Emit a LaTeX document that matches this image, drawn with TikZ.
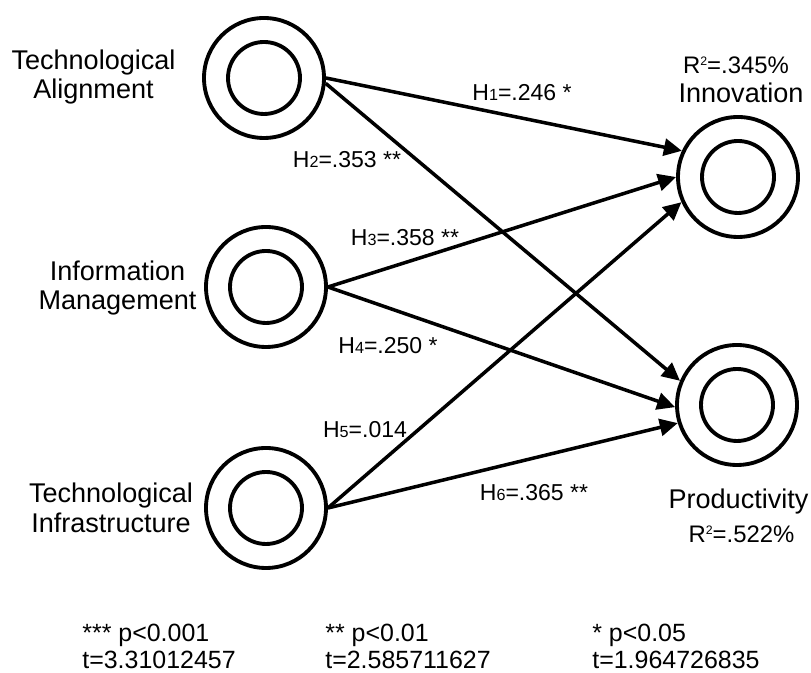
\documentclass[tikz,border=0pt]{standalone}
\usepackage{fontspec}
\setmainfont{Liberation Sans}
\usetikzlibrary{arrows.meta}
\newcommand{\Hyp}[1]{H{\fontsize{9.2}{9.2}\selectfont #1}}
\newcommand{\Rsq}{R\raisebox{4.6pt}{\fontsize{7}{7}\selectfont 2}}
\tikzset{
  construct/.style={circle,draw,line width=2.2pt,minimum size=2.4cm,inner sep=0pt,
    path picture={\draw[line width=2.2pt] (path picture bounding box.center) circle (0.72cm);}},
  cname/.style={align=center,inner sep=0pt,font=\fontsize{15.4}{17}\selectfont},
  rsq/.style={inner sep=0pt,font=\fontsize{13.6}{15}\selectfont},
  coef/.style={inner sep=0pt,font=\fontsize{13.1}{15}\selectfont},
  legend/.style={align=left,anchor=west,inner sep=0pt,font=\fontsize{14.2}{15.4}\selectfont},
  link/.style={line width=2pt,-{Triangle[length=0.36cm,width=0.34cm]}},
}
\begin{document}
\begin{tikzpicture}
	\useasboundingbox (0,0) rectangle (16.22,13.46);
	% constructs
	\node[construct] (TA) at (5.28,11.90) {};
	\node[construct] (IM) at (5.32,7.72) {};
	\node[construct] (TI) at (5.32,3.30) {};
	\node[construct] (Inn) at (14.76,9.92) {};
	\node[construct] (Prod) at (14.74,5.36) {};
	% names
	\node[cname] (TAname) at (1.87,11.92) {Technological\\Alignment};
	\node[cname] (IMname) at (2.35,7.70) {Information\\Management};
	\node[cname] (TIname) at (2.22,3.30) {Technological\\Infrastructure};
	\node[rsq] (InnR) at (14.72,12.16) {\Rsq=.345\%};
	\node[cname] (Innname) at (14.82,11.60) {Innovation};
	\node[cname] (Prodname) at (14.77,3.42) {Productivity};
	\node[rsq] (ProdR) at (14.83,2.78) {\Rsq=.522\%};
	% paths
	\draw[link] (TA.east) -- (Inn.155);
	\draw[link] (TA.-5) -- (Prod.157);
	\draw[link] (IM.east) -- (Inn.180);
	\draw[link] (IM.east) -- (Prod.182);
	\draw[link] (TI.east) -- (Inn.204);
	\draw[link] (TI.east) -- (Prod.197);
	% coefficients
	\node[coef] (H1) at (10.44,11.60) {\Hyp{1}=.246 *};
	\node[coef] (H2) at (6.94,10.26) {\Hyp{2}=.353 **};
	\node[coef] (H3) at (8.10,8.70) {\Hyp{3}=.358 **};
	\node[coef] (H4) at (7.76,6.54) {\Hyp{4}=.250 *};
	\node[coef] (H5) at (7.30,4.86) {\Hyp{5}=.014};
	\node[coef] (H6) at (10.68,3.60) {\Hyp{6}=.365 **};
	% legend
	\node[legend] (L1) at (1.64,0.53) {*** p<0.001\\t=3.31012457};
	\node[legend] (L2) at (6.50,0.53) {** p<0.01\\t=2.585711627};
	\node[legend] (L3) at (11.84,0.53) {* p<0.05\\t=1.964726835};
\end{tikzpicture}
\end{document}
